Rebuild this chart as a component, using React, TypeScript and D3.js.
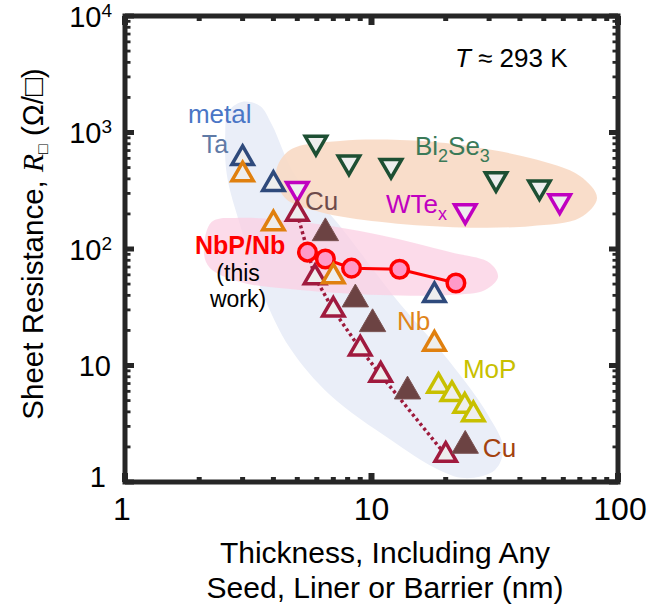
import React from 'react';
import * as d3 from 'd3';

const W = 649;
const H = 607;

// ---- data (thickness nm, sheet resistance ohm/sq) ----
const taX = [3, 4, 18];
const taY = [600, 360, 40];
const nbX = [3, 4, 7, 18];
const nbY = [435, 165, 58, 15.3];
const cuOpenX = [5, 5.9, 7, 9, 10.9, 20];
const cuOpenY = [200, 57, 30, 13.9, 8.3, 1.7];
const cuFilledX = [6.5, 8.6, 10.1, 14, 24];
const cuFilledY = [137, 37, 22.7, 6, 2.05];
const mopX = [18.7, 21.2, 23.9, 25.9];
const mopY = [6.66, 5.65, 4.49, 3.8];
const bi2se3X = [5.95, 8.1, 12, 32, 48];
const bi2se3Y = [820, 555, 520, 400, 340];
const wtexX = [5, 24, 58];
const wtexY = [330, 212, 258];
const nbpX = [5.5, 6.5, 8.3, 13, 22];
const nbpY = [94, 82, 68.5, 67, 51];

// tick values
const xMajorTicks = [1, 10, 100];
const xTickLabels = ['1', '10', '100'];
const yMajorTicks = [1, 10, 100, 1000, 10000];
const yTickBase = ['1', '10', '10', '10', '10'];
const yTickExp = ['', '', '2', '3', '4'];

// shaded regions (outline in data coordinates)
const metalRegion: [number, number][] = [
  [2.62, 1500], [2.98, 1830], [3.53, 1690], [3.95, 1160], [4.89, 432], [7.24, 170],
  [12.2, 40.3], [20.8, 10.7], [29.7, 3.76], [34.2, 1.96], [31.7, 1.27], [23.9, 1.08],
  [18.1, 1.32], [12.0, 2.29], [6.79, 5.58], [4.67, 14.1], [3.6, 42.8], [2.93, 161],
  [2.59, 432], [2.55, 952],
];
const topoRegion: [number, number][] = [
  [4.1, 458], [4.67, 707], [7.45, 845], [13.05, 862], [21.4, 797], [44.0, 604],
  [70.1, 423], [82.2, 274], [70.1, 185], [44.0, 157], [21.4, 154], [10.8, 171],
  [6.18, 208], [4.46, 274],
];
const nbpRegion: [number, number][] = [
  [2.09, 94.2], [2.25, 171], [2.93, 185], [5.13, 171], [10.8, 132], [20.8, 94.2],
  [30.2, 75.9], [32.6, 57.5], [28.9, 44.5], [20.8, 40.3], [10.8, 40.3], [5.13, 44.5],
  [2.93, 52.1], [2.21, 68.7],
];

const FONT = '"Liberation Sans", Arial, Helvetica, sans-serif';

function minorTicks(lo: number, hi: number): number[] {
  const out: number[] = [];
  for (let d = lo; d < hi; d *= 10) {
    for (let k = 2; k <= 9; k++) out.push(d * k);
  }
  return out;
}

export default function App() {
  const x = d3.scaleLog().domain([1, 100]).range([125, 618]);
  const y = d3.scaleLog().domain([1, 10000]).range([482, 16]);

  const openTri = d3.symbol().type(d3.symbolTriangle).size(200)() as string;
  const fillTri = d3.symbol().type(d3.symbolTriangle).size(300)() as string;

  const region = d3
    .line<[number, number]>()
    .x((d) => x(d[0]))
    .y((d) => y(d[1]))
    .curve(d3.curveCatmullRomClosed.alpha(0.5));

  const line = d3
    .line<[number, number]>()
    .x((d) => x(d[0]))
    .y((d) => y(d[1]));

  const zip = (a: number[], b: number[]) => a.map((v, i) => [v, b[i]] as [number, number]);

  const openUp = (xs: number[], ys: number[], color: string, key: string) =>
    xs.map((v, i) => (
      <path
        key={key + i}
        d={openTri}
        transform={`translate(${x(v)},${y(ys[i])})`}
        fill="#eeeeee"
        stroke={color}
        strokeWidth={3.5}
      />
    ));
  const openDown = (xs: number[], ys: number[], color: string, key: string) =>
    xs.map((v, i) => (
      <path
        key={key + i}
        d={openTri}
        transform={`translate(${x(v)},${y(ys[i])}) rotate(180)`}
        fill="#eeeeee"
        stroke={color}
        strokeWidth={3.5}
      />
    ));

  const x0 = 125, x1 = 618, y0 = 16, y1 = 482;
  const frameColor = '#262626';
  const xMinor = minorTicks(1, 100);
  const yMinor = minorTicks(1, 10000);

  const lbl = (tx: number, ty: number) => ({ x: x(tx), y: y(ty) });
  const metalL = lbl(1.8, 1206);
  const taL = lbl(2.05, 667);
  const cuTopL = lbl(5.37, 216);
  const biL = lbl(15.0, 641);
  const wtL = lbl(11.45, 204);
  const nbpL = lbl(2.93, 90);
  const nbL = lbl(12.7, 20.2);
  const mopL = lbl(23.5, 7.81);
  const cuBotL = lbl(28.3, 1.64);
  const tL = lbl(21.8, 3650);

  return (
    <svg
      width={W}
      height={H}
      style={{ position: 'absolute', left: 0, top: 0, display: 'block', background: '#fff' }}
      fontFamily={FONT}
    >
      <rect x={0} y={0} width={W} height={H} fill="#ffffff" />
      {/* shaded regions */}
      <path d={region(metalRegion) as string} fill="#eaeef8" />
      <path d={region(topoRegion) as string} fill="#f8d9c4" opacity={0.9} />
      <path d={region(nbpRegion) as string} fill="#fbcfe3" opacity={0.75} />

      {/* Bi2Se3 and WTex */}
      {openDown(bi2se3X, bi2se3Y, '#1d4f33', 'bi')}
      {openDown(wtexX, wtexY, '#c000c0', 'wt')}

      {/* Cu open (dotted) */}
      <path
        d={line(zip(cuOpenX, cuOpenY)) as string}
        fill="none"
        stroke="#9e1a3c"
        strokeWidth={3.5}
        strokeDasharray="3 3"
      />
      {openUp(cuOpenX, cuOpenY, '#a01a3e', 'cuo')}

      {/* NbP/Nb this work */}
      <path d={line(zip(nbpX, nbpY)) as string} fill="none" stroke="#ff0000" strokeWidth={3} />
      {nbpX.map((v, i) => (
        <circle key={'nbp' + i} cx={x(v)} cy={y(nbpY[i])} r={8.8} fill="#ff99c8" stroke="#ff0000" strokeWidth={3.5} />
      ))}

      {openUp(taX, taY, '#2f4a7c', 'ta')}
      {openUp(nbX, nbY, '#e0800f', 'nb')}
      {cuFilledX.map((v, i) => (
        <path
          key={'cuf' + i}
          d={fillTri}
          transform={`translate(${x(v)},${y(cuFilledY[i])})`}
          fill="#6c4343"
          stroke="#7a5252"
          strokeWidth={1}
        />
      ))}
      {openUp(mopX, mopY, '#c8c000', 'mop')}

      {/* labels */}
      <text x={metalL.x} y={metalL.y} fontSize={26} fill="#4a76c6">metal</text>
      <text x={taL.x} y={taL.y} fontSize={25} fill="#5f7aa6">Ta</text>
      <text x={cuTopL.x} y={cuTopL.y} fontSize={26} fill="#6e4b4b">Cu</text>
      <text x={biL.x} y={biL.y} fontSize={26} fill="#3b7a58">
        Bi<tspan fontSize={18} dy={7}>2</tspan>
        <tspan dy={-7}>Se</tspan>
        <tspan fontSize={18} dy={7}>3</tspan>
      </text>
      <text x={wtL.x} y={wtL.y} fontSize={26} fill="#c000c0">
        WTe<tspan fontSize={18} dy={7}>x</tspan>
      </text>
      <text x={nbpL.x} y={nbpL.y} fontSize={25} fontWeight="bold" fill="#ff0000" textAnchor="middle">NbP/Nb</text>
      <text x={nbpL.x - 2} y={nbpL.y + 26.3} fontSize={23} fill="#000" textAnchor="middle">(this</text>
      <text x={nbpL.x - 2} y={nbpL.y + 52.2} fontSize={23} fill="#000" textAnchor="middle">work)</text>
      <text x={nbL.x} y={nbL.y} fontSize={26} fill="#e0841a">Nb</text>
      <text x={mopL.x} y={mopL.y} fontSize={26} fill="#c8c000">MoP</text>
      <text x={cuBotL.x} y={cuBotL.y} fontSize={26} fill="#a3420f">Cu</text>
      <text x={tL.x} y={tL.y} fontSize={26} fill="#000">
        <tspan fontStyle="italic">T</tspan> ≈ 293 K
      </text>

      {/* ticks */}
      {xMinor.map((v) => (
        <g key={'xm' + v}>
          <rect x={x(v) - 2.5} y={y0} width={5} height={5} fill={frameColor} />
          <rect x={x(v) - 2.5} y={y1 - 5} width={5} height={5} fill={frameColor} />
        </g>
      ))}
      {xMajorTicks.map((v) => (
        <g key={'xM' + v}>
          <rect x={x(v) - 3} y={y0} width={6} height={9} fill={frameColor} />
          <rect x={x(v) - 3} y={y1 - 9} width={6} height={9} fill={frameColor} />
        </g>
      ))}
      {yMinor.map((v) => (
        <g key={'ym' + v}>
          <rect x={x0} y={y(v) - 1.4} width={5.5} height={2.8} fill={frameColor} />
          <rect x={x1 - 5.5} y={y(v) - 1.4} width={5.5} height={2.8} fill={frameColor} />
        </g>
      ))}
      {yMajorTicks.map((v) => (
        <g key={'yM' + v}>
          <rect x={x0} y={y(v) - 2.5} width={9} height={5} fill={frameColor} />
          <rect x={x1 - 9} y={y(v) - 2.5} width={9} height={5} fill={frameColor} />
        </g>
      ))}
      <rect x={x0} y={y0} width={x1 - x0} height={y1 - y0} fill="none" stroke={frameColor} strokeWidth={5} />

      {/* tick labels */}
      {xMajorTicks.map((v, i) => (
        <text key={'xl' + v} x={x(v) + (i === 0 ? -3 : i === 2 ? 2 : 0)} y={520} fontSize={32} textAnchor="middle" fill="#000">
          {xTickLabels[i]}
        </text>
      ))}
      {yMajorTicks.map((v, i) => (
        <text
          key={'yl' + v}
          x={yTickExp[i] ? 112 : i === 0 ? 106 : 111}
          y={y(v) + (i === 0 ? 5 : 10.5)}
          fontSize={29}
          textAnchor="end"
          fill="#000"
        >
          {yTickBase[i]}
          {yTickExp[i] ? (
            <tspan fontSize={19} dy={-10}>
              {yTickExp[i]}
            </tspan>
          ) : null}
        </text>
      ))}

      {/* axis titles */}
      <text x={385} y={563} fontSize={30} textAnchor="middle" fill="#000">Thickness, Including Any</text>
      <text x={385} y={598} fontSize={30} textAnchor="middle" fill="#000">Seed, Liner or Barrier (nm)</text>
      <text transform="translate(43,244) rotate(-90)" fontSize={29.5} textAnchor="middle" fill="#000">
        Sheet Resistance,{' '}
        <tspan fontFamily='"Liberation Serif", "Times New Roman", serif' fontStyle="italic">R</tspan>
        <tspan fontSize={16} dy={5}>□</tspan>
        <tspan dy={-5}> (Ω/□)</tspan>
      </text>
    </svg>
  );
}
